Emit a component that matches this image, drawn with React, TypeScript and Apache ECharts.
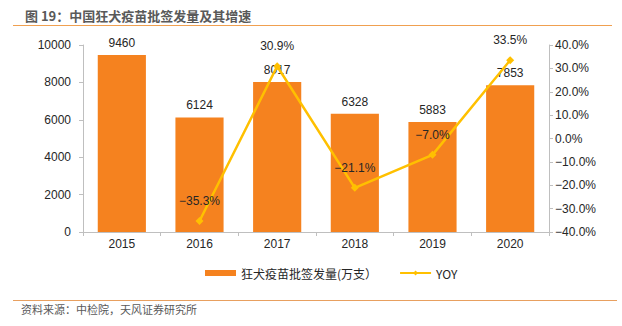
import React, { useEffect, useRef } from "react";
import * as echarts from "echarts";

const years = ["2015", "2016", "2017", "2018", "2019", "2020"];
const volumes = [9460, 6124, 8017, 6328, 5883, 7853];
const yoy: (number | null)[] = [null, -35.3, 30.9, -21.1, -7.0, 33.5];

const fmtPct = (v: number) => (v < 0 ? "\u2212" + Math.abs(v).toFixed(1) : v.toFixed(1)) + "%";

export default function App() {
  const ref = useRef<HTMLDivElement>(null);
  useEffect(() => {
    const chart = echarts.init(ref.current!, null, { renderer: "svg" });
    const font = "Liberation Sans, Arial, sans-serif";
    chart.setOption({
      animation: false,
      textStyle: { fontFamily: font },
      graphic: [
        {
          type: "text",
          left: 25,
          top: 9,
          style: {
            text: "图 19：中国狂犬疫苗批签发量及其增速",
            fill: "#595959",
            font: "bold 13px 'Noto Sans CJK SC', sans-serif",
          },
        },
        {
          type: "line",
          shape: { x1: 13, y1: 25.5, x2: 612, y2: 25.5 },
          style: { stroke: "#F0A050", lineWidth: 1 },
        },
        {
          type: "line",
          shape: { x1: 13, y1: 300.5, x2: 617, y2: 300.5 },
          style: { stroke: "#E8A060", lineWidth: 1 },
        },
        {
          type: "text",
          left: 21,
          top: 303,
          style: {
            text: "资料来源：中检院，天风证券研究所",
            fill: "#595959",
            font: "11px 'Noto Sans CJK SC', sans-serif",
          },
        },
      ],
      legend: {
        bottom: 42,
        left: 200,
        itemGap: 22,
        itemWidth: 31,
        itemHeight: 6,
        textStyle: { fontSize: 12, color: "#262626", fontFamily: "'Noto Sans CJK SC', sans-serif" },
        data: [
          { name: "狂犬疫苗批签发量(万支）", icon: "rect" },
          { name: "YOY" },
        ],
      },
      grid: { left: 83, right: 73, top: 45, bottom: 94 },
      xAxis: {
        type: "category",
        data: years,
        axisLine: { lineStyle: { color: "#BFBFBF" } },
        axisTick: { show: true, length: 4, lineStyle: { color: "#BFBFBF" } },
        axisLabel: { color: "#262626", fontSize: 12, margin: 6 },
      },
      yAxis: [
        {
          type: "value",
          min: 0,
          max: 10000,
          interval: 2000,
          splitLine: { show: false },
          axisLine: { show: true, lineStyle: { color: "#BFBFBF" } },
          axisTick: { show: true, length: 4, lineStyle: { color: "#BFBFBF" } },
          axisLabel: { color: "#262626", fontSize: 12, margin: 12, formatter: (v: number) => String(v) },
        },
        {
          type: "value",
          min: -40,
          max: 40,
          interval: 10,
          splitLine: { show: false },
          axisLine: { show: true, lineStyle: { color: "#BFBFBF" } },
          axisTick: { show: true, length: 4, lineStyle: { color: "#BFBFBF" } },
          axisLabel: { color: "#262626", fontSize: 12, margin: 6, formatter: (v: number) => fmtPct(v) },
        },
      ],
      series: [
        {
          name: "狂犬疫苗批签发量(万支）",
          type: "bar",
          data: volumes,
          barWidth: "62%",
          itemStyle: { color: "#F5821F" },
          label: { show: true, position: "top", color: "#262626", fontSize: 12, distance: 6 },
        },
        {
          name: "YOY",
          type: "line",
          yAxisIndex: 1,
          data: yoy,
          symbol: "diamond",
          symbolSize: 8,
          lineStyle: { color: "#FFC000", width: 2.5 },
          itemStyle: { color: "#FFC000" },
          label: {
            show: true,
            position: "top",
            distance: 10,
            color: "#262626",
            fontSize: 12,
            formatter: (p: any) => fmtPct(p.value),
          },
        },
      ],
    });
    return () => chart.dispose();
  }, []);
  return (
    <div
      ref={ref}
      style={{ position: "absolute", left: 0, top: 0, width: 622, height: 326, background: "#fff" }}
    />
  );
}
